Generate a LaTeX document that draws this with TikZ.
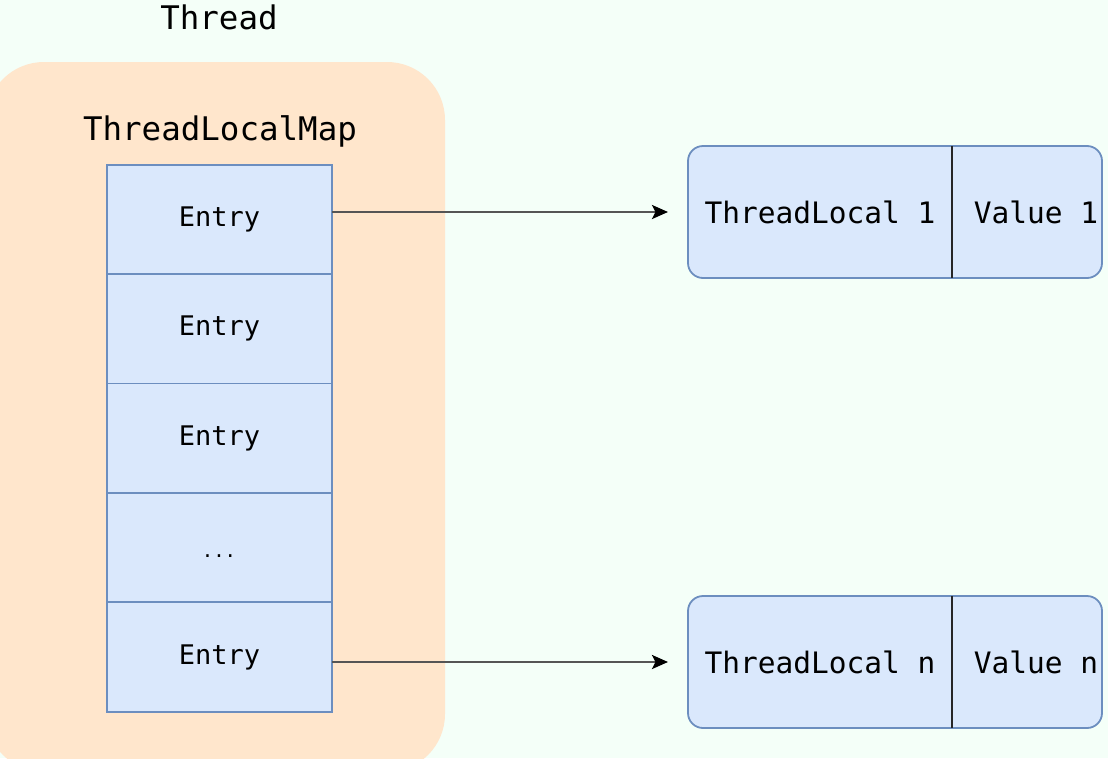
\documentclass[tikz,border=0pt]{standalone}
\usepackage{fontspec}
\setmonofont{DejaVu Sans Mono}
\usetikzlibrary{positioning,arrows.meta}
\definecolor{bgmint}{HTML}{F4FFF8}
\definecolor{threadfill}{HTML}{FFE6CC}
\definecolor{entryfill}{HTML}{DAE8FC}
\definecolor{entryline}{HTML}{6C8EBF}
\definecolor{arrowgray}{HTML}{555555}
\tikzset{
  entry/.style={draw=entryline,fill=entryfill,line width=1.8pt,minimum width=225pt,
    minimum height=109.4pt,outer sep=0pt,inner sep=0pt,font=\ttfamily\fontsize{27}{32}\selectfont},
  kvbox/.style={draw=entryline,fill=entryfill,line width=1.8pt,rounded corners=15pt,
    minimum width=414pt,minimum height=132pt,outer sep=0pt},
  kvtext/.style={inner sep=0pt,font=\ttfamily\fontsize{29.5}{35}\selectfont},
  title/.style={inner sep=0pt,font=\ttfamily\fontsize{32.5}{38}\selectfont},
  link/.style={arrowgray,line width=2.6pt,-{Stealth[length=16pt,width=14pt,inset=3.5pt,black]},shorten >=20pt},
}
\begin{document}
\begin{tikzpicture}[x=1pt,y=-1pt]
  \useasboundingbox (0,0) rectangle (1108,758);
  \fill[bgmint] (0,0) rectangle (1108,758);
  % thread
  \fill[threadfill,rounded corners=58pt] (-14,62) rectangle (445,772);
  \node[title] (thread) at (219,17) {Thread};
  \node[title] (map) at (220,131) {ThreadLocalMap};
  % entries of the map
  \node[entry] (e1) at (219.5,219.4) {Entry};
  \foreach \i/\txt [remember=\i as \prev (initially 1)] in {2/Entry,3/Entry,4/{},5/Entry}
    \node[entry,below=0pt of e\prev] (e\i) {\txt};
  \node[inner sep=0pt,anchor=base,font=\ttfamily\fontsize{19}{22}\selectfont] (dots) at (219,557) {...};
  % key/value pairs
  \node[kvbox] (kv1) at (895,212) {};
  \node[kvbox] (kvn) at (895,662) {};
  \node[kvtext] (tl1) at (820,212) {ThreadLocal 1};
  \node[kvtext] (v1) at (1036,212) {Value 1};
  \node[kvtext] (tln) at (820,662) {ThreadLocal n};
  \node[kvtext] (vn) at (1036,662) {Value n};
  \draw[black!85,line width=2pt] (952,146) -- (952,278);
  \draw[black!85,line width=2pt] (952,596) -- (952,728);
  % connectors
  \draw[link] (e1.east |- kv1) -- (kv1.west);
  \draw[link] (e5.east |- kvn) -- (kvn.west);
\end{tikzpicture}
\end{document}
